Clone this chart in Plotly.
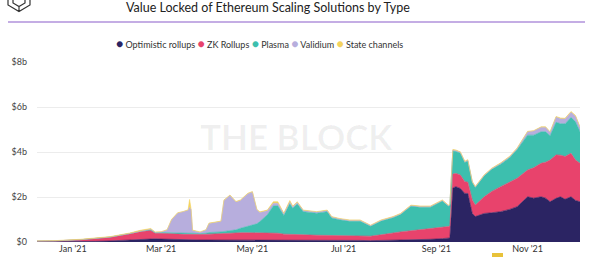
import plotly.graph_objects as go

dates = [
    "2020-12-08", "2020-12-20", "2021-01-06", "2021-01-16", "2021-01-26", "2021-02-08",
    "2021-02-15", "2021-02-22", "2021-02-25", "2021-03-01", "2021-03-05", "2021-03-08",
    "2021-03-12", "2021-03-16", "2021-03-19", "2021-03-20", "2021-03-21", "2021-03-22",
    "2021-03-27", "2021-03-31", "2021-04-02", "2021-04-10", "2021-04-12", "2021-04-16",
    "2021-04-20", "2021-04-23", "2021-04-28", "2021-05-01", "2021-05-04", "2021-05-06",
    "2021-05-11", "2021-05-15", "2021-05-18", "2021-05-22", "2021-05-26", "2021-05-28",
    "2021-05-31", "2021-06-04", "2021-06-13", "2021-06-20", "2021-06-23", "2021-06-28",
    "2021-07-05", "2021-07-12", "2021-07-19", "2021-07-26", "2021-08-03", "2021-08-08",
    "2021-08-15", "2021-08-21", "2021-08-28", "2021-09-05", "2021-09-09", "2021-09-10",
    "2021-09-12", "2021-09-14", "2021-09-17", "2021-09-20", "2021-09-22", "2021-09-25",
    "2021-09-27", "2021-10-03", "2021-10-08", "2021-10-14", "2021-10-20", "2021-10-25",
    "2021-11-01", "2021-11-05", "2021-11-10", "2021-11-13", "2021-11-16", "2021-11-20",
    "2021-11-23", "2021-11-26", "2021-11-30", "2021-12-03", "2021-12-06",
]

optimistic = [
    0.01, 0.01, 0.02, 0.03, 0.05, 0.10,
    0.13, 0.15, 0.14, 0.13, 0.12, 0.11,
    0.10, 0.10, 0.10, 0.10, 0.10, 0.10,
    0.09, 0.09, 0.09, 0.09, 0.09, 0.09,
    0.09, 0.10, 0.10, 0.10, 0.10, 0.10,
    0.10, 0.10, 0.10, 0.09, 0.09, 0.09,
    0.09, 0.09, 0.08, 0.08, 0.08, 0.08,
    0.07, 0.07, 0.06, 0.07, 0.07, 0.07,
    0.08, 0.09, 0.12, 0.15, 0.16, 0.18,
    2.40, 2.46, 2.38, 2.16, 2.16, 1.27,
    1.13, 1.27, 1.30, 1.35, 1.45, 1.57,
    2.01, 1.95, 2.01, 1.95, 1.79, 1.94,
    2.01, 1.90, 2.01, 1.85, 1.79,
]

zk_rollups = [
    0.03, 0.04, 0.08, 0.12, 0.16, 0.26,
    0.33, 0.36, 0.25, 0.26, 0.25, 0.24,
    0.24, 0.24, 0.24, 0.24, 0.24, 0.24,
    0.23, 0.24, 0.26, 0.28, 0.29, 0.30,
    0.31, 0.31, 0.31, 0.31, 0.31, 0.31,
    0.31, 0.30, 0.29, 0.26, 0.26, 0.25,
    0.25, 0.23, 0.22, 0.21, 0.21, 0.20,
    0.20, 0.22, 0.20, 0.25, 0.35, 0.38,
    0.42, 0.45, 0.48, 0.52, 0.53, 0.53,
    0.62, 0.59, 0.60, 0.52, 0.50, 0.60,
    0.51, 0.74, 0.95, 1.11, 1.20, 1.26,
    1.19, 1.35, 1.49, 1.60, 1.85, 1.93,
    1.85, 1.90, 1.93, 1.79, 1.71,
]

plasma = [
    0.00, 0.00, 0.00, 0.00, 0.01, 0.02,
    0.03, 0.04, 0.03, 0.03, 0.04, 0.04,
    0.04, 0.05, 0.05, 0.05, 0.05, 0.05,
    0.05, 0.06, 0.07, 0.08, 0.09, 0.10,
    0.14, 0.20, 0.30, 0.34, 0.40, 0.50,
    0.80, 1.20, 1.22, 0.83, 1.35, 1.16,
    1.35, 1.03, 0.98, 1.06, 0.78, 0.71,
    0.65, 0.63, 0.44, 0.61, 0.66, 0.77,
    1.09, 1.01, 0.95, 1.15, 0.90, 0.92,
    1.02, 0.97, 0.97, 0.85, 0.94, 0.77,
    0.78, 0.93, 0.98, 1.00, 1.10, 1.28,
    1.55, 1.45, 1.40, 1.35, 1.08, 1.45,
    1.40, 1.45, 1.60, 1.70, 1.40,
]

validium = [
    0.00, 0.00, 0.00, 0.00, 0.00, 0.00,
    0.00, 0.02, 0.01, 0.02, 0.12, 0.60,
    0.90, 0.95, 1.02, 1.15, 1.05, 0.12,
    0.06, 0.14, 0.40, 0.46, 1.38, 1.58,
    1.24, 1.24, 1.44, 1.47, 0.62, 0.40,
    0.18, 0.12, 0.11, 0.08, 0.08, 0.07,
    0.07, 0.05, 0.05, 0.05, 0.04, 0.04,
    0.04, 0.04, 0.03, 0.03, 0.03, 0.03,
    0.03, 0.03, 0.03, 0.03, 0.03, 0.03,
    0.05, 0.05, 0.04, 0.04, 0.04, 0.03,
    0.03, 0.03, 0.03, 0.04, 0.04, 0.05,
    0.15, 0.18, 0.20, 0.20, 0.16, 0.23,
    0.22, 0.22, 0.23, 0.25, 0.20,
]

state_channels = [
    0.01, 0.01, 0.02, 0.02, 0.02, 0.02,
    0.03, 0.03, 0.02, 0.02, 0.02, 0.02,
    0.02, 0.02, 0.02, 0.35, 0.03, 0.02,
    0.02, 0.02, 0.02, 0.02, 0.02, 0.02,
    0.02, 0.02, 0.02, 0.02, 0.02, 0.03,
    0.03, 0.07, 0.07, 0.02, 0.06, 0.03,
    0.03, 0.02, 0.02, 0.02, 0.02, 0.02,
    0.02, 0.02, 0.02, 0.02, 0.02, 0.02,
    0.02, 0.02, 0.02, 0.02, 0.02, 0.02,
    0.02, 0.02, 0.02, 0.02, 0.02, 0.02,
    0.02, 0.02, 0.02, 0.02, 0.02, 0.02,
    0.02, 0.02, 0.02, 0.02, 0.02, 0.03,
    0.03, 0.03, 0.03, 0.03, 0.02,
]

series_names = ["Optimistic rollups", "ZK Rollups", "Plasma", "Validium", "State channels"]
series_values = [optimistic, zk_rollups, plasma, validium, state_channels]
series_colors = ["#2b2463", "#e8436c", "#3dbfae", "#b7aedd", "#f4d35e"]

y_ticks = [0, 2, 4, 6, 8]
y_tick_labels = ["$0", "$2b", "$4b", "$6b", "$8b"]

title_text = "Value Locked of Ethereum Scaling Solutions by Type"
watermark_text = "THE BLOCK"

FONT = "Lato, 'Open Sans', Arial, sans-serif"

fig = go.Figure()
for name, vals, col in zip(series_names, series_values, series_colors):
    fig.add_trace(go.Scatter(
        x=dates, y=vals, name=name, mode="lines",
        stackgroup="one", line=dict(width=0.6, color=col),
        fillcolor=col, showlegend=False,
        hoverinfo="x+y+name",
    ))

W, H = 600, 257
L, R, T, B = 37, 20, 62, 15
pw = W - L - R
ph = H - T - B

def px(x):
    return (x - L) / pw

def py(y):
    return (H - B - y) / ph

legend_text = " ".join(
    f"<span style='color:{c}; font-size:12px'>●</span> {n}" for n, c in zip(series_names, series_colors)
)

fig.update_layout(
    width=W, height=H,
    margin=dict(l=L, r=R, t=T, b=B, autoexpand=False),
    paper_bgcolor="white", plot_bgcolor="white",
    font=dict(family=FONT, size=9, color="#333333"),
    showlegend=False,
    xaxis=dict(
        type="date", automargin=False,
        range=["2020-12-08", "2021-12-06"],
        tick0="2021-01-01", dtick="M2", tickformat="%b '%y",
        showgrid=False, zeroline=False, showline=False, ticks="",
        tickfont=dict(size=9, color="#333333"),
    ),
    yaxis=dict(
        range=[0, 8], tickvals=y_ticks, ticktext=y_tick_labels, automargin=False,
        showgrid=True, gridcolor="#ececec", gridwidth=1,
        zeroline=False, showline=False, ticks="",
        ticklabelstandoff=9,
        tickfont=dict(size=9, color="#444444"),
    ),
    annotations=[
        dict(text=title_text, xref="paper", yref="paper", x=px(268), y=py(8),
             xanchor="center", yanchor="middle", showarrow=False,
             font=dict(size=12.5, color="#222222", family=FONT)),
        dict(text=legend_text, xref="paper", yref="paper", x=px(259), y=py(44),
             xanchor="center", yanchor="middle", showarrow=False,
             font=dict(size=9, color="#333333", family=FONT)),
        dict(text=watermark_text, xref="paper", yref="paper", x=px(296), y=py(136),
             xanchor="center", yanchor="middle", showarrow=False,
             font=dict(size=35, color="rgba(0,0,0,0.06)", family="Lato, sans-serif", weight=700)),
    ],
    shapes=[
        dict(type="line", xref="paper", yref="paper", x0=px(8), x1=px(585), y0=py(22), y1=py(22),
             line=dict(color="#8a5cc9", width=1.2)),
        dict(type="path", xref="paper", yref="paper",
             path=(f"M {px(8)},{py(-2)} L {px(8)},{py(5)} L {px(19)},{py(11.5)} L {px(30)},{py(5)} L {px(30)},{py(-2)} "
                   f"M {px(13)},{py(-2)} L {px(13)},{py(3)} L {px(19)},{py(6.5)} L {px(25)},{py(3)} L {px(25)},{py(-2)} "
                   f"M {px(19)},{py(6.5)} L {px(19)},{py(11.5)}"),
             line=dict(color="#333333", width=1.2)),
        dict(type="rect", xref="paper", yref="paper", x0=px(492), x1=px(503), y0=py(257), y1=py(253),
             fillcolor="#e8c23a", line=dict(width=0)),
    ],
)

fig.write_html("out.html")
